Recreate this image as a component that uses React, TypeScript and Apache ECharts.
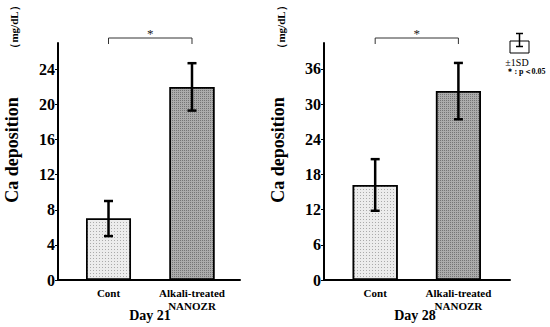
import React, { useEffect, useRef } from "react";
import * as echarts from "echarts";

const categories = ["Cont", "Alkali-treated\nNANOZR"];
const day21Mean = [7.0, 22.0];
const day21Sd = [2.0, 2.7];
const day28Mean = [16.2, 32.2];
const day28Sd = [4.4, 4.8];
const day21Ticks = [0, 4, 8, 12, 16, 20, 24];
const day28Ticks = [0, 6, 12, 18, 24, 30, 36];
const panelTitles = ["Day 21", "Day 28"];

const SERIF = '"Times New Roman", "Liberation Serif", serif';

const barStyles = [
  {
    color: "#ececec",
    borderColor: "#000",
    borderWidth: 1.5,
    decal: {
      symbol: "rect",
      symbolSize: 1,
      color: "rgba(0,0,0,0.28)",
      dashArrayX: [1, 2],
      dashArrayY: [1, 2],
      rotation: 0,
    },
  },
  {
    color: "#acacac",
    borderColor: "#000",
    borderWidth: 1.5,
    decal: {
      symbol: "rect",
      symbolSize: 1,
      color: "rgba(0,0,0,0.32)",
      dashArrayX: [1, 1],
      dashArrayY: [1, 1],
      rotation: 0,
    },
  },
];

function errRender(params: any, api: any) {
  const x = api.value(0);
  const m = api.value(1);
  const s = api.value(2);
  const top = api.coord([x, m + s]);
  const bot = api.coord([x, m - s]);
  const hw = 4.5;
  const style = { stroke: "#000", lineWidth: 2.5 };
  return {
    type: "group",
    children: [
      { type: "line", shape: { x1: top[0], y1: top[1], x2: bot[0], y2: bot[1] }, style },
      { type: "line", shape: { x1: top[0] - hw, y1: top[1], x2: top[0] + hw, y2: top[1] }, style },
      { type: "line", shape: { x1: bot[0] - hw, y1: bot[1], x2: bot[0] + hw, y2: bot[1] }, style },
    ],
  };
}

function bracketRender(params: any, api: any) {
  const a = api.coord([api.value(0), 0])[0];
  const b = api.coord([api.value(1), 0])[0];
  const gy = params.coordSys.y;
  const y = gy - 5;
  const style = { stroke: "#333", lineWidth: 1 };
  return {
    type: "group",
    children: [
      { type: "line", shape: { x1: a, y1: y, x2: b, y2: y }, style },
      { type: "line", shape: { x1: a, y1: y, x2: a, y2: gy + 1 }, style },
      { type: "line", shape: { x1: b, y1: y, x2: b, y2: gy + 1 }, style },
      {
        type: "text",
        x: (a + b) / 2,
        y: y - 5,
        style: { text: "*", font: `13px ${SERIF}`, fill: "#222", align: "center", verticalAlign: "middle" },
      },
    ],
  };
}

export default function App() {
  const ref = useRef<HTMLDivElement>(null);
  useEffect(() => {
    if (!ref.current) return;
    const chart = echarts.init(ref.current, null, { renderer: "svg" });

    const panels = [
      { mean: day21Mean, sd: day21Sd, ticks: day21Ticks, max: 27, xmin: -0.605, xmax: 1.575, left: 58, right: 310 },
      { mean: day28Mean, sd: day28Sd, ticks: day28Ticks, max: 40.4, xmin: -0.615, xmax: 1.62, left: 324, right: 40 },
    ];

    const grid = panels.map((p) => ({ left: p.left, right: p.right, top: 43, bottom: 47 }));
    const xAxis = panels.map((p, i) => ({
      type: "value",
      gridIndex: i,
      min: p.xmin,
      max: p.xmax,
      splitLine: { show: false },
      axisTick: { show: false },
      axisLine: { show: true, onZero: false, lineStyle: { color: "#000", width: 2 } },
      axisLabel: {
        customValues: [0, 1],
        formatter: (v: number) => categories[Math.round(v)] ?? "",
        fontFamily: SERIF,
        fontWeight: "bold",
        fontSize: 11,
        lineHeight: 13,
        color: "#000",
        margin: 6,
      },
    }));
    const yAxis = panels.map((p, i) => ({
      type: "value",
      gridIndex: i,
      min: 0,
      max: p.max,
      splitLine: { show: false },
      axisLine: { show: true, onZero: false, lineStyle: { color: "#000", width: 2 } },
      axisTick: { show: true, length: 3, customValues: p.ticks, lineStyle: { color: "#000", width: 1 } },
      axisLabel: {
        customValues: p.ticks,
        fontFamily: SERIF,
        fontWeight: "bold",
        fontSize: 16,
        color: "#000",
        margin: 3,
      },
    }));

    const series: any[] = [];
    panels.forEach((p, i) => {
      series.push({
        type: "bar",
        xAxisIndex: i,
        yAxisIndex: i,
        barWidth: 45,
        data: p.mean.map((m, k) => ({ value: [k, m], itemStyle: barStyles[k] })),
      });
      series.push({
        type: "custom",
        xAxisIndex: i,
        yAxisIndex: i,
        renderItem: errRender,
        z: 5,
        data: p.mean.map((m, k) => [k, m, p.sd[k]]),
      });
      series.push({
        type: "custom",
        xAxisIndex: i,
        yAxisIndex: i,
        renderItem: bracketRender,
        clip: false,
        z: 5,
        data: [[0, 1]],
      });
    });

    const rotText = (x: number, y: number, text: string, font: string) => ({
      type: "text",
      x,
      y,
      rotation: Math.PI / 2,
      style: { text, font, fill: "#000", align: "center", verticalAlign: "middle" },
    });

    const graphic: any[] = [
      rotText(12, 150, "Ca deposition", `bold 18px ${SERIF}`),
      rotText(14, 27, "（mg/dL）", `bold 11px ${SERIF}`),
      rotText(278, 150, "Ca deposition", `bold 18px ${SERIF}`),
      rotText(281, 27, "（mg/dL）", `bold 11px ${SERIF}`),
      {
        type: "text",
        x: 150,
        y: 315,
        style: { text: panelTitles[0], font: `bold 14px ${SERIF}`, fill: "#000", align: "center", verticalAlign: "middle" },
      },
      {
        type: "text",
        x: 415,
        y: 315,
        style: { text: panelTitles[1], font: `bold 14px ${SERIF}`, fill: "#000", align: "center", verticalAlign: "middle" },
      },
      // legend key
      { type: "rect", shape: { x: 510, y: 41, width: 19, height: 12 }, style: { fill: "#fff", stroke: "#000", lineWidth: 1 } },
      { type: "line", shape: { x1: 519.5, y1: 33.5, x2: 519.5, y2: 46.5 }, style: { stroke: "#000", lineWidth: 1.5 } },
      { type: "line", shape: { x1: 516, y1: 33.5, x2: 523, y2: 33.5 }, style: { stroke: "#000", lineWidth: 1.5 } },
      { type: "line", shape: { x1: 516, y1: 46.5, x2: 523, y2: 46.5 }, style: { stroke: "#000", lineWidth: 1.5 } },
      {
        type: "text",
        x: 517,
        y: 62,
        style: { text: "±1SD", font: `10px ${SERIF}`, fill: "#000", align: "center", verticalAlign: "middle" },
      },
      {
        type: "text",
        x: 526,
        y: 71,
        style: { text: "＊: p＜0.05", font: `bold 8px ${SERIF}`, fill: "#000", align: "center", verticalAlign: "middle" },
      },
    ];

    chart.setOption({
      animation: false,
      backgroundColor: "#fff",
      grid,
      xAxis,
      yAxis,
      series,
      graphic,
    });
    return () => chart.dispose();
  }, []);
  return (
    <div
      ref={ref}
      style={{ position: "fixed", left: 0, top: 0, width: 550, height: 327 }}
    />
  );
}
